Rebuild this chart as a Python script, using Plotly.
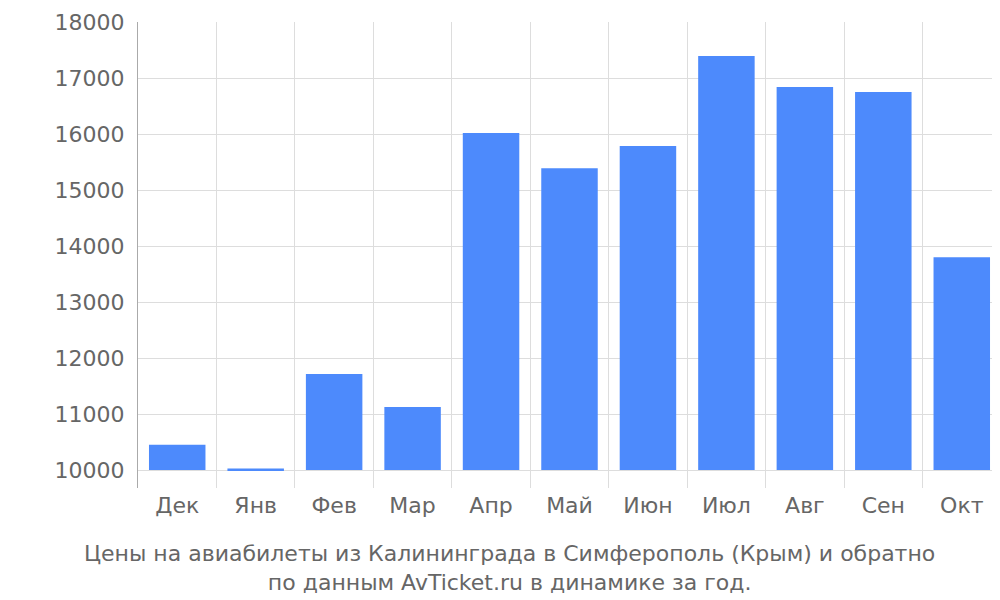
import plotly.graph_objects as go

months = ["Дек", "Янв", "Фев", "Мар", "Апр", "Май", "Июн", "Июл", "Авг", "Сен", "Окт"]
prices = [10450, 10030, 11715, 11125, 16020, 15390, 15785, 17395, 16840, 16750, 13800]
base_price = 10000

xs = list(range(len(months)))

fig = go.Figure(go.Bar(
    x=xs,
    y=[p - base_price for p in prices],
    base=base_price,
    marker=dict(color="#4d8afc", line=dict(width=0)),
    width=0.72,
))

fig.update_layout(
    width=1000, height=600,
    margin=dict(l=130, r=7, t=14, b=120, autoexpand=False),
    plot_bgcolor="white", paper_bgcolor="white",
    font=dict(family="DejaVu Sans", size=22, color="#666666"),
    showlegend=False,
    xaxis=dict(
        range=[-0.5, len(months) - 0.5],
        tickvals=xs, ticktext=months,
        showgrid=False, zeroline=False, automargin=False,
        ticks="", ticklabelstandoff=2,
        minor=dict(tickvals=[i - 0.5 for i in range(len(months) + 1)],
                   showgrid=True, gridcolor="#dddddd", gridwidth=1),
    ),
    yaxis=dict(
        range=[9680, 18000],
        tickvals=list(range(10000, 18001, 1000)),
        tickformat="d",
        ticksuffix=" ₽",
        showgrid=True, gridcolor="#dddddd", zeroline=False, automargin=False,
        showline=True, linecolor="#aaaaaa",
        ticks="", ticklabelstandoff=8,
    ),
    annotations=[dict(
        text="Цены на авиабилеты из Калининграда в Симферополь (Крым) и обратно<br>по данным AvTicket.ru в динамике за год.",
        xref="paper", yref="paper", x=0.43, y=-0.11, xanchor="center", yanchor="top",
        showarrow=False, font=dict(size=22, color="#666666"),
    )],
)

fig.write_html("out.html")
